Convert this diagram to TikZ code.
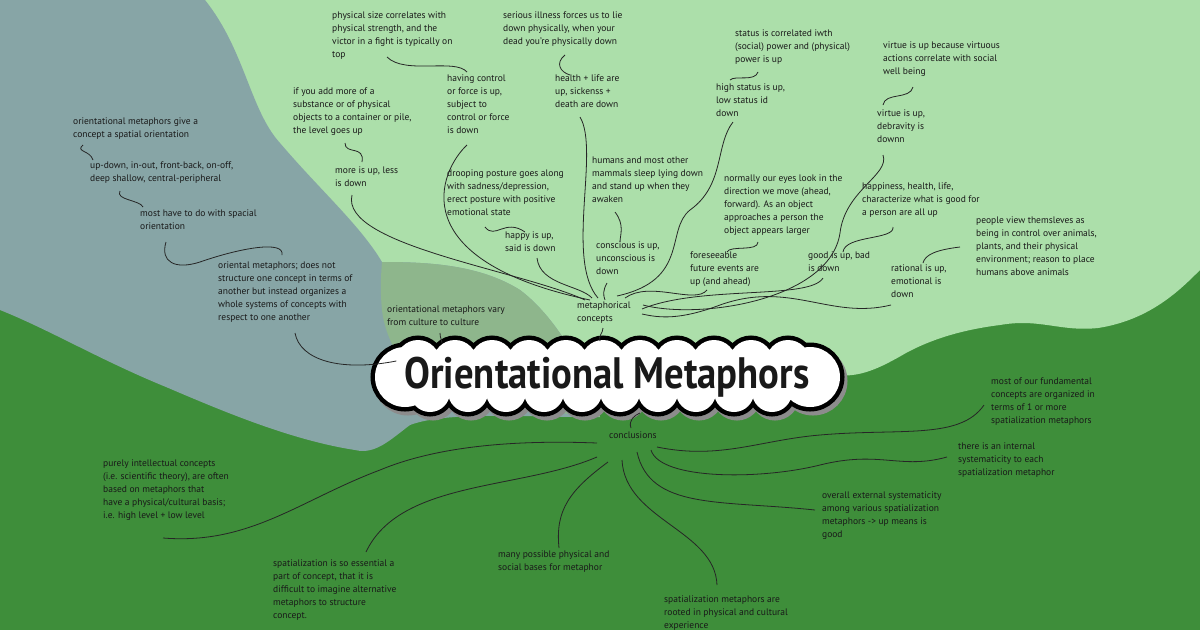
\documentclass[tikz,border=0pt]{standalone}
\usepackage{fontspec}
\usepackage{graphicx}
\setmainfont{PT Sans}
\definecolor{lgreen}{RGB}{172,223,170}
\definecolor{dgreen}{RGB}{62,142,58}
\definecolor{grayb}{RGB}{135,165,166}
\definecolor{overl}{RGB}{142,182,140}
\definecolor{txt}{RGB}{25,25,25}
\tikzset{
  lbl/.style={anchor=north west,inner sep=0pt,align=left,text=txt,font=\fontsize{9.5}{13}\selectfont},
  conn/.style={draw=black!85,line width=0.8pt},
}
\newcommand{\cloudbody}{%
  \foreach \cx in {418,455,492,529,566,603,640,677,714,751,788}{ (\cx,362) circle[radius=22] }
  \foreach \cx in {430,468,506,544,582,620,658,696,734,772}{ (\cx,392) circle[radius=20] }
  (405,377) circle[radius=30] (810,377) circle[radius=30]}
\begin{document}
\begin{tikzpicture}[x=1pt,y=-1pt]
\useasboundingbox (0,0) rectangle (1200,630);
\fill[dgreen] (0,0) rectangle (1200,630);
% light green region
\fill[lgreen] (100,0) -- (1200,0) -- (1200,270)
  .. controls (1180,290) and (1150,320) .. (1098,328)
  .. controls (1060,332) and (1040,318) .. (1000,325)
  .. controls (960,330) and (930,340) .. (906,353)
  .. controls (880,368) and (860,378) .. (835,375)
  -- (600,395) -- (430,400) -- (382,300) -- (200,200) -- cycle;
% gray region
\fill[grayb] (0,0) -- (205,0)
  .. controls (245,50) and (250,110) .. (280,143)
  .. controls (320,190) and (360,225) .. (382,262)
  .. controls (430,262) and (480,265) .. (520,290)
  .. controls (560,320) and (590,380) .. (600,417)
  .. controls (540,418) and (450,410) .. (410,425)
  .. controls (390,440) and (375,455) .. (355,450)
  .. controls (290,440) and (220,410) .. (166,387)
  .. controls (100,360) and (50,330) .. (0,310) -- cycle;
% overlap
\fill[overl] (382,262)
  .. controls (430,262) and (480,265) .. (520,290)
  .. controls (560,320) and (590,380) .. (600,417)
  -- (430,400) .. controls (405,370) and (385,340) .. (382,310)
  .. controls (380,290) and (381,275) .. (382,262) -- cycle;
% title cloud
\begin{scope}[shift={(3,4)}]
  \path[draw=black!45,line width=9pt,fill=black!45] \cloudbody;
  \fill[black!45] (405,358) rectangle (810,396);
\end{scope}
\path[draw=black,line width=9pt] \cloudbody;
\path[fill=white] \cloudbody;
\fill[white] (405,358) rectangle (810,396);
\node[inner sep=0pt,text=txt] (title) at (607,377) {\resizebox{405pt}{\height}{\fontsize{44}{44}\bfseries\selectfont Orientational Metaphors}};
% text nodes
\node[lbl] (n1) at (332,12) {physical size correlates with\\physical strength, and the\\victor in a fight is typically on\\top};
\node[lbl] (n2) at (503,12) {serious illness forces us to lie\\down physically, when your\\dead you're physically down};
\node[lbl] (n3) at (735,30) {status is correlated iwth\\(social) power and (physical)\\power is up};
\node[lbl] (n4) at (883,42) {virtue is up because virtuous\\actions correlate with social\\well being};
\node[lbl] (n5) at (447,75) {having control\\or force is up,\\subject to\\control or force\\is down};
\node[lbl] (n6) at (555,75) {health + life are\\up, sickenss +\\death are down};
\node[lbl] (n7) at (716,84) {high status is up,\\low status id\\down};
\node[lbl] (n8) at (293,88) {if you add more of a\\substance or of physical\\objects to a container or pile,\\the level goes up};
\node[lbl] (n9) at (877,110) {virtue is up,\\debravity is\\downn};
\node[lbl] (n10) at (73,118) {orientational metaphors give a\\concept a spatial orientation};
\node[lbl] (n11) at (90,162) {up-down, in-out, front-back, on-off,\\deep shallow, central-peripheral};
\node[lbl] (n12) at (335,167) {more is up, less\\is down};
\node[lbl] (n13) at (447,170) {drooping posture goes along\\with sadness/depression,\\erect posture with positive\\emotional state};
\node[lbl] (n14) at (592,157) {humans and most other\\mammals sleep lying down\\and stand up when they\\awaken};
\node[lbl] (n15) at (724,175) {normally our eyes look in the\\direction we move (ahead,\\forward). As an object\\approaches a person the\\object appears larger};
\node[lbl] (n16) at (862,183) {happiness, health, life,\\characterize what is good for\\a person are all up};
\node[lbl] (n17) at (140,210) {most have to do with spacial\\orientation};
\node[lbl] (n18) at (505,232) {happy is up,\\said is down};
\node[lbl] (n19) at (596,242) {conscious is up,\\unconscious is\\down};
\node[lbl] (n20) at (690,252) {foreseeable\\future events are\\up (and ahead)};
\node[lbl] (n21) at (808,252) {good is up, bad\\is down};
\node[lbl] (n22) at (976,217) {people view themsleves as\\being in control over animals,\\plants, and their physical\\environment; reason to place\\humans above animals};
\node[lbl] (n23) at (891,265) {rational is up,\\emotional is\\down};
\node[lbl] (n24) at (218,262) {oriental metaphors; does not\\structure one concept in terms of\\another but instead organizes a\\whole systems of concepts with\\respect to one another};
\node[lbl] (n25) at (387,306) {orientational metaphors vary\\from culture to culture};
\node[lbl] (mc) at (577,302) {metaphorical\\concepts};
\node[lbl] (cl) at (609,432) {conclusions};
\node[lbl] (b28) at (991,378) {most of our fundamental\\concepts are organized in\\terms of 1 or more\\spatialization metaphors};
\node[lbl] (b29) at (958,443) {there is an internal\\systematicity to each\\spatialization metaphor};
\node[lbl] (b30) at (103,460) {purely intellectual concepts\\(i.e. scientific theory), are often\\based on metaphors that\\have a physical/cultural basis;\\i.e. high level + low level};
\node[lbl] (b31) at (822,492) {overall external systematicity\\among various spatialization\\metaphors -> up means is\\good};
\node[lbl] (b32) at (498,551) {many possible physical and\\social bases for metaphor};
\node[lbl] (b33) at (273,560) {spatialization is so essential a\\part of concept, that it is\\difficult to imagine alternative\\metaphors to structure\\concept.};
\node[lbl] (b34) at (664,596) {spatialization metaphors are\\rooted in physical and cultural\\experience};
% child links
\draw[conn] ([shift={(55,45)}]n1.north west) .. controls (405,75) and (455,58) .. ([shift={(20,-3)}]n5.north west);
\draw[conn] ([shift={(62,43)}]n2.north west) .. controls (555,63) and (560,72) .. ([shift={(15,0)}]n6.north west);
\draw[conn] ([shift={(23,42)}]n3.north west) .. controls (755,82) and (735,75) .. ([shift={(14,-4)}]n7.north west);
\draw[conn] ([shift={(30,45)}]n4.north west) .. controls (910,100) and (885,92) .. ([shift={(6,-5)}]n9.north west);
\draw[conn] ([shift={(52,55)}]n8.north west) .. controls (345,155) and (365,145) .. ([shift={(27,-5)}]n12.north west);
\draw[conn] ([shift={(10,27)}]n10.north west) .. controls (75,152) and (90,150) .. ([shift={(3,-2)}]n11.north west);
\draw[conn] ([shift={(30,29)}]n11.north west) .. controls (115,200) and (140,200) .. ([shift={(3,-3)}]n17.north west);
\draw[conn] ([shift={(26,32)}]n17.north west) .. controls (160,262) and (175,270) .. (200,262) .. controls (240,248) and (285,240) .. ([shift={(64,-7)}]n24.north west);
\draw[conn] ([shift={(38,57)}]n13.north west) .. controls (495,240) and (505,218) .. ([shift={(20,0)}]n18.north west);
\draw[conn] ([shift={(23,55)}]n14.north west) .. controls (625,225) and (620,235) .. ([shift={(24,0)}]n19.north west);
\draw[conn] ([shift={(34,67)}]n15.north west) .. controls (758,252) and (730,245) .. ([shift={(37,0)}]n20.north west);
\draw[conn] ([shift={(31,44)}]n16.north west) .. controls (895,240) and (845,235) .. ([shift={(35,0)}]n21.north west);
\draw[conn] ([shift={(-16,30)}]n22.north west) .. controls (935,250) and (925,255) .. ([shift={(32,-2)}]n23.north west);
% hub links
\draw[conn] ([shift={(17,28)}]n12.north west) .. controls (340,245) and (520,270) .. ([shift={(8,-2)}]mc.north west);
\draw[conn] ([shift={(20,70)}]n5.north west) .. controls (440,170) and (400,260) .. ([shift={(13,-2)}]mc.north west);
\draw[conn] ([shift={(32,26)}]n18.north west) .. controls (540,285) and (580,285) .. ([shift={(15,-4)}]mc.north west);
\draw[conn] ([shift={(25,42)}]n6.north west) .. controls (600,150) and (565,260) .. ([shift={(21,-4)}]mc.north west);
\draw[conn] ([shift={(11,41)}]n19.north west) .. controls (603,290) and (603,295) .. ([shift={(28,-2)}]mc.north west);
\draw[conn] ([shift={(17,38)}]n7.north west) .. controls (715,145) and (725,185) .. (690,210) .. controls (665,230) and (690,280) .. ([shift={(40,-6)}]mc.north west);
\draw[conn] ([shift={(17,38)}]n20.north west) .. controls (695,305) and (650,280) .. ([shift={(48,-4)}]mc.north west);
\draw[conn] ([shift={(6,45)}]n9.north west) .. controls (890,175) and (845,190) .. (840,233) .. controls (830,300) and (700,320) .. ([shift={(66,3)}]mc.north west);
\draw[conn] ([shift={(15,26)}]n21.north west) .. controls (810,300) and (700,285) .. ([shift={(65,7)}]mc.north west);
\draw[conn] ([shift={(0,40)}]n23.north west) .. controls (830,320) and (790,280) .. (720,305) .. controls (680,320) and (660,318) .. ([shift={(65,12)}]mc.north west);
% title links
\draw[conn] ([shift={(26,26)}]mc.north west) .. controls (603,333) and (598,336) .. ([shift={(-7,-36)}]title.center);
\draw[conn] ([shift={(77,71)}]n24.north west) .. controls (300,360) and (340,372) .. ([shift={(-8,-16)}]title.west);
\draw[conn] ([shift={(53,27)}]n25.north west) .. controls (440,338) and (442,340) .. ([shift={(-165,-34)}]title.center);
\draw[conn] ([shift={(33,36)}]title.center) .. controls (635,415) and (628,420) .. ([shift={(22,-4)}]cl.north west);
% conclusion links
\draw[conn] ([shift={(-12,11)}]cl.north west) .. controls (520,440) and (440,445) .. (380,470) .. controls (300,500) and (250,545) .. ([shift={(60,78)}]b30.north west);
\draw[conn] ([shift={(-12,25)}]cl.north west) .. controls (520,490) and (400,480) .. ([shift={(93,-8)}]b33.north west);
\draw[conn] ([shift={(-1,30)}]cl.north west) .. controls (570,490) and (555,510) .. ([shift={(61,-3)}]b32.north west);
\draw[conn] ([shift={(13,28)}]cl.north west) .. controls (625,520) and (715,530) .. ([shift={(53,-11)}]b34.north west);
\draw[conn] ([shift={(28,20)}]cl.north west) .. controls (650,510) and (720,500) .. ([shift={(-7,18)}]b31.north west);
\draw[conn] ([shift={(42,18)}]cl.north west) .. controls (660,480) and (760,480) .. (820,465) .. controls (880,450) and (900,470) .. ([shift={(-11,14)}]b29.north west);
\draw[conn] ([shift={(48,15)}]cl.north west) .. controls (720,460) and (760,440) .. (820,435) .. controls (900,428) and (960,440) .. ([shift={(-7,27)}]b28.north west);
\end{tikzpicture}
\end{document}
